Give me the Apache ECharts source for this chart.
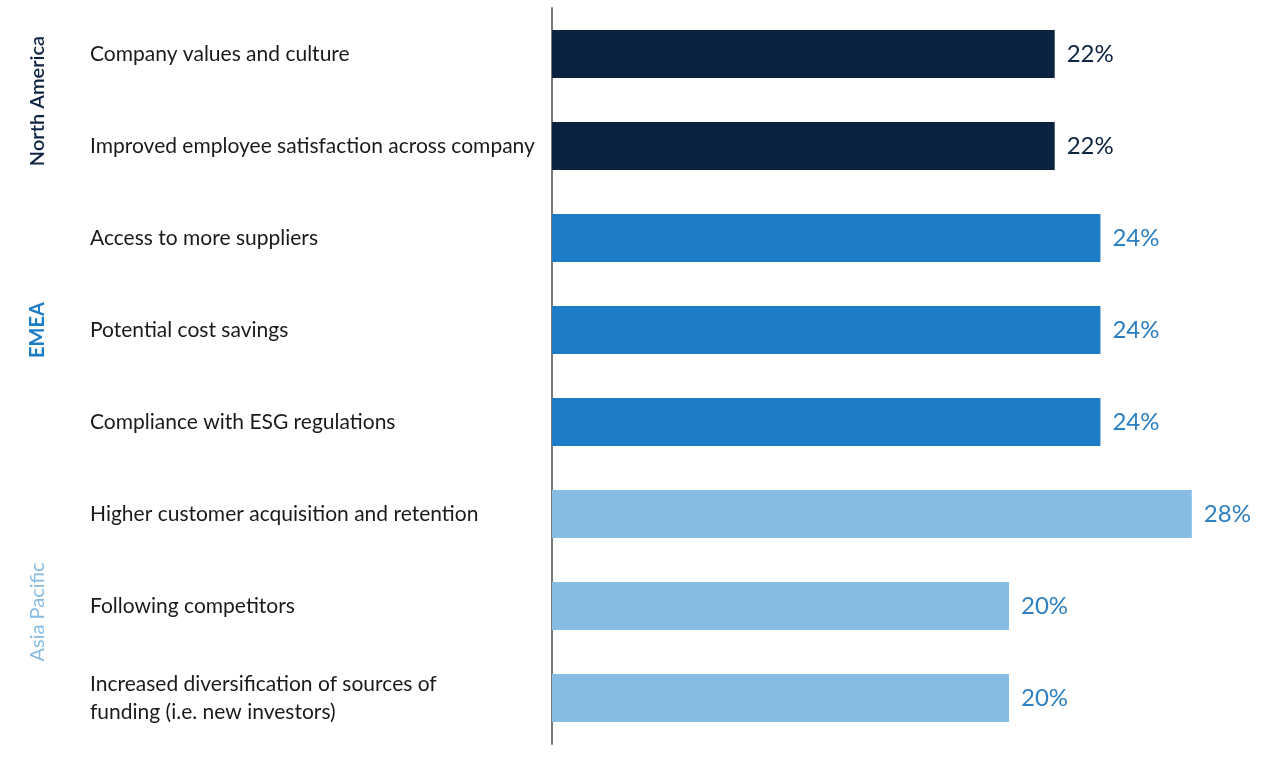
<!DOCTYPE html>
<html>
<head>
<meta charset="utf-8">
<script src="https://cdn.jsdelivr.net/npm/echarts@6/dist/echarts.min.js"></script>
<style>
  html, body { margin: 0; padding: 0; background: #fff; }
  #chart { width: 1280px; height: 759px; }
</style>
</head>
<body>
<div id="chart"></div>
<script>
var categories = [
    'Company values and culture',
    'Improved employee satisfaction across company',
    'Access to more suppliers',
    'Potential cost savings',
    'Compliance with ESG regulations',
    'Higher customer acquisition and retention',
    'Following competitors',
    'Increased diversification of sources of\nfunding (i.e. new investors)'
];
var values = [22, 22, 24, 24, 24, 28, 20, 20];
var regionOf = [0, 0, 1, 1, 1, 2, 2, 2];
var regions = ['North America', 'EMEA', 'Asia Pacific'];

var barColors = ['#0b2341', '#1c7cc5', '#86bbe2'];
var labelColors = ['#0b2341', '#2a7fc2', '#2f80c2'];
var regionColors = ['#0b2341', '#1c7cc5', '#86bbe2'];

var dom = document.getElementById('chart');
var myChart = echarts.init(dom);

var option = {
    animation: false,
    grid: {
        left: 552,
        top: 8,
        width: 685.5,
        height: 736
    },
    xAxis: {
        type: 'value',
        min: 0,
        max: 30,
        show: false
    },
    yAxis: {
        type: 'category',
        inverse: true,
        data: categories,
        axisLine: { lineStyle: { color: '#7a7a7a', width: 2 } },
        axisTick: { show: false },
        axisLabel: {
            align: 'left',
            margin: 462,
            color: '#1a1a1a',
            fontFamily: 'Lato',
            fontSize: 21,
            lineHeight: 28
        }
    },
    series: [
        {
            type: 'bar',
            barWidth: 48,
            data: values.map(function (v, i) {
                return {
                    value: v,
                    itemStyle: { color: barColors[regionOf[i]] },
                    label: { color: labelColors[regionOf[i]] }
                };
            }),
            label: {
                show: true,
                position: 'right',
                distance: 12,
                fontFamily: 'Lato',
                fontSize: 24,
                formatter: '{c}%'
            }
        }
    ],
    graphic: [
        { type: 'text', x: 38, y: 101, rotation: Math.PI / 2,
          style: { text: regions[0], fill: regionColors[0], font: '600 20px Lato', align: 'center', verticalAlign: 'middle' } },
        { type: 'text', x: 38, y: 330, rotation: Math.PI / 2,
          style: { text: regions[1], fill: regionColors[1], font: '700 20px Lato', align: 'center', verticalAlign: 'middle' } },
        { type: 'text', x: 38, y: 612, rotation: Math.PI / 2,
          style: { text: regions[2], fill: regionColors[2], font: '20px Lato', align: 'center', verticalAlign: 'middle' } }
    ]
};

myChart.setOption(option, true);

window.addEventListener('resize', function () {
    myChart.resize();
});
</script>
</body>
</html>
